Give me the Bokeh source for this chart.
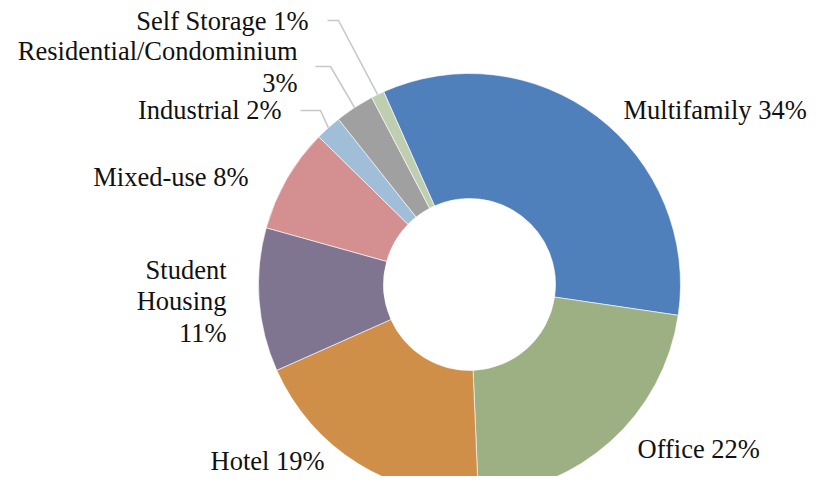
import numpy as np
from bokeh.plotting import figure
from bokeh.models import Range1d, ColumnDataSource
from bokeh.embed import file_html
from bokeh.resources import INLINE
from bokeh.core.properties import value

# ---- data ----
categories = ["Multifamily", "Office", "Hotel", "Student Housing", "Mixed-use",
              "Industrial", "Residential/Condominium", "Self Storage"]
shares = [34, 22, 19, 11, 8, 2, 3, 1]
label_lines = [["Multifamily 34%"], ["Office 22%"], ["Hotel 19%"],
               ["Student", "Housing", "11%"], ["Mixed-use 8%"], ["Industrial 2%"],
               ["Residential/Condominium", "3%"], ["Self Storage 1%"]]

# ---- style ----
palette = ["#4F80BC", "#9CB083", "#D08F48", "#7F7590", "#D49090",
           "#A0BED8", "#A0A0A0", "#BFCEB0"]
FONT = "Liberation Serif"
FS = "26.5px"

# ---- layout (reference pixel coords, y measured from top) ----
W, H = 808, 476
def fy(Y):
    return 492 - Y
CX, CY = 469, 284
R_OUT, R_IN = 211, 86
FIRST_ANGLE = -24.0  # degrees clockwise from 12 o'clock
TEXT_SHIFT = -9      # rendering offset correction for text baselines

# label anchors: x, first baseline y, align, line spacing
label_pos = [(623, 118, "left", 0), (637, 457, "left", 0), (210, 469, "left", 0),
             (226, 278, "right", 31.7), (248, 185, "right", 0), (281, 118, "right", 0),
             (297, 59, "right", 32), (308, 29, "right", 0)]
leaders = {5: (300, 320, 110), 6: (315, 330, 66), 7: (327, 338, 20)}

p = figure(width=W, height=H, x_range=Range1d(0, W), y_range=Range1d(492 - H, 492),
           output_backend="svg", toolbar_location=None, min_border=0,
           x_axis_location=None, y_axis_location=None)
p.grid.visible = False
p.outline_line_color = None
p.background_fill_color = "white"

vals = np.array(shares, dtype=float)
cum = np.cumsum(vals)
total = vals.sum()
th_start = FIRST_ANGLE + 360 * (cum - vals) / total
th_end = FIRST_ANGLE + 360 * cum / total
th_mid = (th_start + th_end) / 2

src = ColumnDataSource(dict(
    x=[CX] * len(vals), y=[fy(CY)] * len(vals),
    start=np.radians(90 - th_start), end=np.radians(90 - th_end),
    color=palette, cat=categories))
p.annular_wedge(x="x", y="y", inner_radius=R_IN, outer_radius=R_OUT,
                start_angle="start", end_angle="end", direction="clock",
                fill_color="color", line_color="white", line_width=0.6, source=src)

for i, (xs, xe, ly) in leaders.items():
    t = np.radians(th_mid[i])
    ex = CX + R_OUT * np.sin(t)
    ey = CY - R_OUT * np.cos(t)
    p.line(x=[xs, xe, ex], y=[fy(ly), fy(ly), fy(ey)], line_color="#C8C8C8", line_width=1.6)

for lines, (lx, ly, al, sp) in zip(label_lines, label_pos):
    p.text(x=[lx] * len(lines),
           y=[fy(ly + k * sp + TEXT_SHIFT) for k in range(len(lines))], text=lines,
           text_font=value(FONT), text_font_size=FS, text_color="#111111",
           text_align=al, text_baseline="alphabetic")

open("out.html", "w").write(file_html(p, INLINE))
